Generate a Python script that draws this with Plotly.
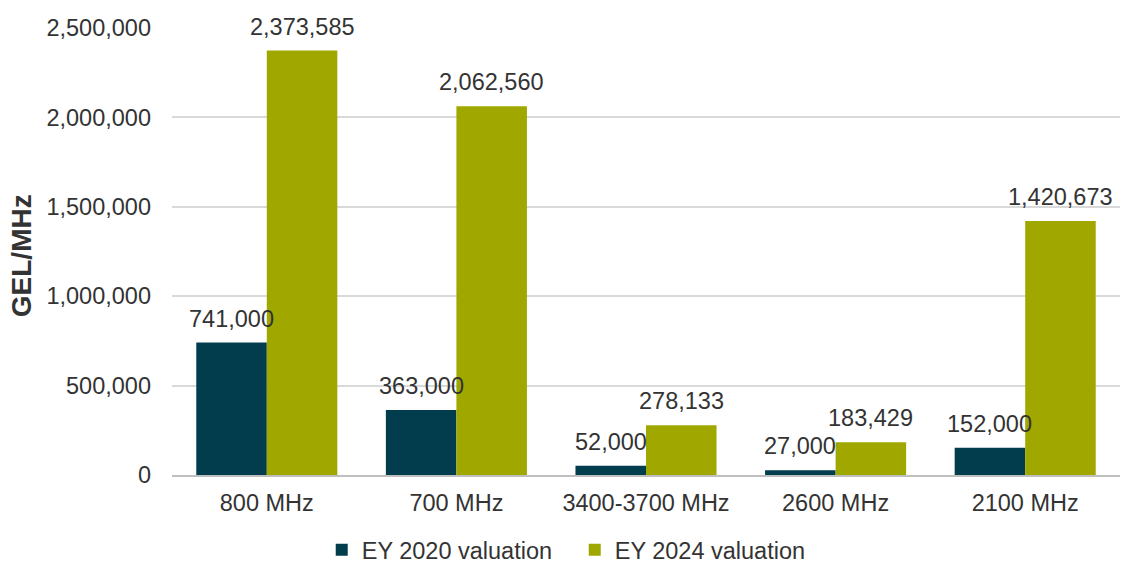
import plotly.graph_objects as go

categories = ["800 MHz", "700 MHz", "3400-3700 MHz", "2600 MHz", "2100 MHz"]
ey2020 = [741000, 363000, 52000, 27000, 152000]
ey2024 = [2373585, 2062560, 278133, 183429, 1420673]
series_names = ["EY 2020 valuation", "EY 2024 valuation"]
y_ticks = [0, 500000, 1000000, 1500000, 2000000, 2500000]
y_title = "GEL/MHz"

DARK = "#023D4D"
GREEN = "#A0A800"
TXT = "#333333"
FONT = "Liberation Sans, Arial, sans-serif"
FS = 23.5

fig = go.Figure()
fig.add_trace(go.Bar(x=categories, y=ey2020, name=series_names[0],
                     marker=dict(color=DARK, line=dict(width=0))))
fig.add_trace(go.Bar(x=categories, y=ey2024, name=series_names[1],
                     marker=dict(color=GREEN, line=dict(width=0))))

# Data labels above each bar
bar_px = 35.3
for vals, shift in ((ey2020, -bar_px), (ey2024, bar_px)):
    for c, v in zip(categories, vals):
        fig.add_annotation(x=c, y=v, text=f"{v:,}", showarrow=False,
                           xshift=shift, yshift=9, yanchor="bottom",
                           font=dict(family=FONT, size=FS, color=TXT))

# Y axis title
fig.add_annotation(xref="paper", yref="paper", x=-0.158, y=0.49,
                   text=f"<b>{y_title}</b>", textangle=-90, showarrow=False,
                   xanchor="center", yanchor="middle",
                   font=dict(family=FONT, size=28, color=TXT))

fig.update_layout(
    width=1121, height=565,
    margin=dict(l=172, r=1, t=28, b=90, autoexpand=False),
    paper_bgcolor="white", plot_bgcolor="white",
    barmode="group", bargap=0.256, bargroupgap=0,
    font=dict(family=FONT, size=FS, color=TXT),
    showlegend=True,
    legend=dict(orientation="h", xref="container", yref="paper",
                x=0.287, xanchor="left", y=-0.168, yanchor="middle",
                font=dict(family=FONT, size=FS, color=TXT),
                itemwidth=30, entrywidth=208, entrywidthmode="pixels",
                tracegroupgap=0, bgcolor="rgba(0,0,0,0)"),
)
fig.update_xaxes(showgrid=False, showline=True, linecolor="#BFBFBF", linewidth=2,
                 ticks="", tickfont=dict(family=FONT, size=FS, color=TXT),
                 ticklabelstandoff=6)
fig.update_yaxes(range=[0, 2500000], tickvals=y_ticks,
                 ticktext=[f"{t:,}" for t in y_ticks],
                 showgrid=True, gridcolor="#D9D9D9", gridwidth=1.5,
                 zeroline=False, showline=False, ticks="",
                 tickfont=dict(family=FONT, size=FS, color=TXT),
                 ticklabelstandoff=20)

fig.write_html("out.html")
